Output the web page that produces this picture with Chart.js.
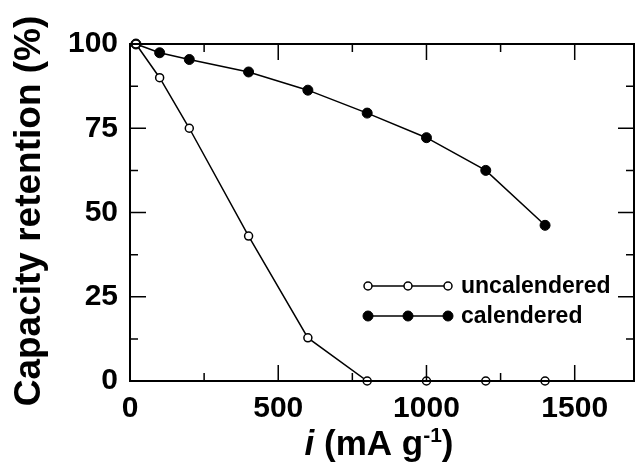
<!DOCTYPE html>
<html>
<head>
<meta charset="utf-8">
<script src="https://cdn.jsdelivr.net/npm/chart.js@4.4.0/dist/chart.umd.min.js"></script>
<style>
  html, body { margin: 0; padding: 0; background: #fff; overflow: hidden; }
  #wrap { width: 640px; height: 463px; position: relative; }
</style>
</head>
<body>
<div id="wrap"><canvas id="rate-chart"></canvas></div>
<script>
var FONT = '"Liberation Sans", Arial, Helvetica, sans-serif';

// current density, mA g-1
var currents = [20, 100, 200, 400, 600, 800, 1000, 1200, 1400];
var uncalendered = [100, 90, 75, 43, 12.8, 0, 0, 0, 0];
var calendered = [100, 97.4, 95.4, 91.7, 86.3, 79.5, 72.2, 62.5, 46.2];

var xTicks = [0, 500, 1000, 1500];
var xMinor = [250, 750, 1250];
var yTicks = [0, 25, 50, 75, 100];
var yMinor = [12.5, 37.5, 62.5, 87.5];

var seriesNames = ['uncalendered', 'calendered'];

function pts(ys) {
  return currents.map(function (x, i) { return { x: x, y: ys[i] }; });
}

// box around the plot with inward tick marks, axis titles and the legend
var decorations = {
  id: 'decorations',
  afterDraw: function (chart) {
    var ctx = chart.ctx;
    var a = chart.chartArea;
    var xs = chart.scales.x, ys = chart.scales.y;
    ctx.save();
    ctx.strokeStyle = '#000';
    ctx.lineWidth = 2;
    ctx.strokeRect(a.left, a.top, a.right - a.left, a.bottom - a.top);

    ctx.lineWidth = 1.5;
    ctx.beginPath();
    function xt(v, len) {
      var px = xs.getPixelForValue(v);
      ctx.moveTo(px, a.bottom); ctx.lineTo(px, a.bottom - len);
      ctx.moveTo(px, a.top); ctx.lineTo(px, a.top + len);
    }
    function yt(v, len) {
      var py = ys.getPixelForValue(v);
      ctx.moveTo(a.left, py); ctx.lineTo(a.left + len, py);
      ctx.moveTo(a.right, py); ctx.lineTo(a.right - len, py);
    }
    xTicks.forEach(function (v) { xt(v, 16); });
    xMinor.forEach(function (v) { xt(v, 8); });
    yTicks.forEach(function (v) { yt(v, 16); });
    yMinor.forEach(function (v) { yt(v, 8); });
    ctx.stroke();

    ctx.fillStyle = '#000';
    // y title
    ctx.save();
    ctx.translate(40, 211);
    ctx.rotate(-Math.PI / 2);
    ctx.font = 'bold 37px ' + FONT;
    ctx.textAlign = 'center';
    ctx.textBaseline = 'alphabetic';
    ctx.fillText('Capacity retention (%)', 0, 0);
    ctx.restore();

    // x title: i (mA g-1)
    var parts = [
      { t: 'i', f: 'italic bold 35px ' + FONT, dy: 0 },
      { t: ' (mA g', f: 'bold 35px ' + FONT, dy: 0 },
      { t: '-1', f: 'bold 21px ' + FONT, dy: -13 },
      { t: ')', f: 'bold 35px ' + FONT, dy: 0 }
    ];
    var total = 0;
    parts.forEach(function (p) { ctx.font = p.f; p.w = ctx.measureText(p.t).width; total += p.w; });
    var cx = 379 - total / 2;
    ctx.textAlign = 'left';
    ctx.textBaseline = 'alphabetic';
    parts.forEach(function (p) { ctx.font = p.f; ctx.fillText(p.t, cx, 455 + p.dy); cx += p.w; });

    // legend, three markers per sample line
    var rows = [286, 316];
    chart.data.datasets.forEach(function (ds, i) {
      var y = rows[i];
      ctx.lineWidth = 1.5;
      ctx.strokeStyle = '#000';
      ctx.beginPath();
      ctx.moveTo(368, y); ctx.lineTo(448, y);
      ctx.stroke();
      [368, 408, 448].forEach(function (mx) {
        ctx.beginPath();
        ctx.arc(mx, y, ds.pointRadius, 0, Math.PI * 2);
        ctx.fillStyle = ds.pointBackgroundColor;
        ctx.fill();
        ctx.lineWidth = ds.pointBorderWidth;
        ctx.stroke();
      });
      ctx.fillStyle = '#000';
      ctx.font = 'bold 23px ' + FONT;
      ctx.textBaseline = 'middle';
      ctx.fillText(ds.label, 461, y + 1);
    });
    ctx.restore();
  }
};

function plain(v) { return String(v); }

var chart = new Chart(document.getElementById('rate-chart'), {
  type: 'scatter',
  data: {
    datasets: [
      {
        label: seriesNames[0],
        data: pts(uncalendered),
        showLine: true,
        borderColor: '#000',
        borderWidth: 1.5,
        pointRadius: 4,
        pointBackgroundColor: '#fff',
        pointBorderColor: '#000',
        pointBorderWidth: 1.5,
        clip: false
      },
      {
        label: seriesNames[1],
        data: pts(calendered),
        showLine: true,
        borderColor: '#000',
        borderWidth: 1.5,
        pointRadius: 5,
        pointBackgroundColor: '#000',
        pointBorderColor: '#000',
        pointBorderWidth: 1,
        clip: false
      }
    ]
  },
  options: {
    responsive: true,
    maintainAspectRatio: false,
    animation: false,
    layout: { padding: { top: 44, right: 3, left: 0, bottom: 0 } },
    plugins: { legend: { display: false }, tooltip: { enabled: false } },
    scales: {
      x: {
        type: 'linear',
        min: 0,
        max: 1700,
        afterBuildTicks: function (s) { s.ticks = xTicks.map(function (v) { return { value: v }; }); },
        afterFit: function (s) { s.height = 82; },
        grid: { display: false, drawTicks: false },
        border: { display: false },
        ticks: { padding: 10, color: '#000', callback: plain, font: { family: FONT, size: 30, weight: 'bold' } }
      },
      y: {
        min: 0,
        max: 100,
        afterBuildTicks: function (s) { s.ticks = yTicks.map(function (v) { return { value: v }; }); },
        afterFit: function (s) { s.width = 130; },
        grid: { display: false, drawTicks: false },
        border: { display: false },
        ticks: { padding: 12, color: '#000', callback: plain, font: { family: FONT, size: 30, weight: 'bold' } }
      }
    }
  },
  plugins: [decorations]
});
</script>
</body>
</html>
